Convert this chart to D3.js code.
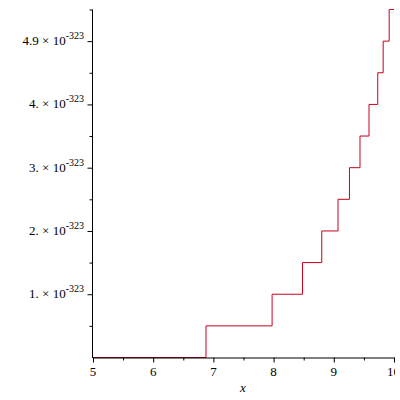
<!DOCTYPE html>
<html>
<head>
<meta charset="utf-8">
<script src="https://cdn.jsdelivr.net/npm/d3@7"></script>
<style>
  html, body { margin: 0; padding: 0; background: #fff; }
  svg { display: block; }
  text { font-family: "Liberation Serif", "Times New Roman", serif; fill: #000; }
</style>
</head>
<body>
<script>
// Step function values (subnormal doubles)
const stepX = [5, 6.877, 7.975, 8.48, 8.80, 9.07, 9.26, 9.435, 9.585, 9.73, 9.82, 9.92, 10];
const stepY = [0, 5e-324, 1e-323, 1.5e-323, 2e-323, 2.5e-323, 3e-323, 3.5e-323, 4e-323, 4.5e-323, 5e-323, 5.4e-323, 5.4e-323];

const xMajor = [5, 6, 7, 8, 9, 10];
const xMinor = [5.5, 6.5, 7.5, 8.5, 9.5];
const xLabels = ["5", "6", "7", "8", "9", "10"];

const yMajor = [1e-323, 2e-323, 3e-323, 4e-323, 4.9e-323];
const yMinor = [5e-324, 1.5e-323, 2.5e-323, 3.5e-323, 4.5e-323, 5.4e-323];
const yMantissa = ["1.", "2.", "3.", "4.", "4.9"];
const yExponent = "-323";
const xTitle = "x";

const W = 400, H = 400;
const svg = d3.select("body").append("svg").attr("width", W).attr("height", H);
svg.append("defs").append("clipPath").attr("id", "pageclip")
  .append("rect").attr("x", 0).attr("y", 0).attr("width", 395).attr("height", H);

const x = d3.scaleLinear().domain([5, 10]).range([93, 394]);
const y = d3.scaleLinear().domain([0, 5.4e-323]).range([357.5, 9.5]);

// curve
const line = d3.line().x((d, i) => x(stepX[i])).y((d, i) => y(stepY[i])).curve(d3.curveStepAfter);
svg.append("path").datum(stepX).attr("d", line)
  .attr("fill", "none").attr("stroke", "#c8001e").attr("stroke-width", 1);

// x axis
const gx = svg.append("g").attr("transform", `translate(0,${y(0)})`);
gx.call(d3.axisBottom(x).tickValues(xMajor).tickSize(5).tickSizeOuter(0).tickFormat(() => ""));
gx.append("g").call(d3.axisBottom(x).tickValues(xMinor).tickSize(3).tickSizeOuter(0).tickFormat(() => ""))
  .select(".domain").remove();
gx.selectAll("path, line").attr("stroke", "#000");
svg.append("g").attr("clip-path", "url(#pageclip)").selectAll("text").data(xMajor).join("text")
  .attr("x", d => d === 10 ? x(d) - 7 : x(d)).attr("y", 376)
  .attr("text-anchor", d => d === 10 ? "start" : "middle").attr("font-size", 13)
  .text((d, i) => xLabels[i]);

// y axis
const gy = svg.append("g").attr("transform", "translate(92.5,0)");
gy.call(d3.axisLeft(y).tickValues(yMajor).tickSize(5).tickSizeOuter(0).tickFormat(() => ""));
gy.append("g").call(d3.axisLeft(y).tickValues(yMinor).tickSize(3).tickSizeOuter(0).tickFormat(() => ""))
  .select(".domain").remove();
gy.selectAll("path, line").attr("stroke", "#000");
gy.select(".domain").attr("d", `M0,${y(0) + 0.5}V${y.range()[1]}`);

const ylab = svg.append("g").selectAll("text").data(yMajor).join("text")
  .attr("x", 84).attr("y", d => y(d) + 4)
  .attr("text-anchor", "end").attr("font-size", 13);
ylab.append("tspan").text((d, i) => yMantissa[i] + " \u00d7 10");
ylab.append("tspan").attr("font-size", 10).attr("dy", -6).text(yExponent);

svg.append("text").attr("x", 243).attr("y", 392)
  .attr("text-anchor", "middle").attr("font-size", 13).attr("font-style", "italic")
  .text(xTitle);
</script>
</body>
</html>
